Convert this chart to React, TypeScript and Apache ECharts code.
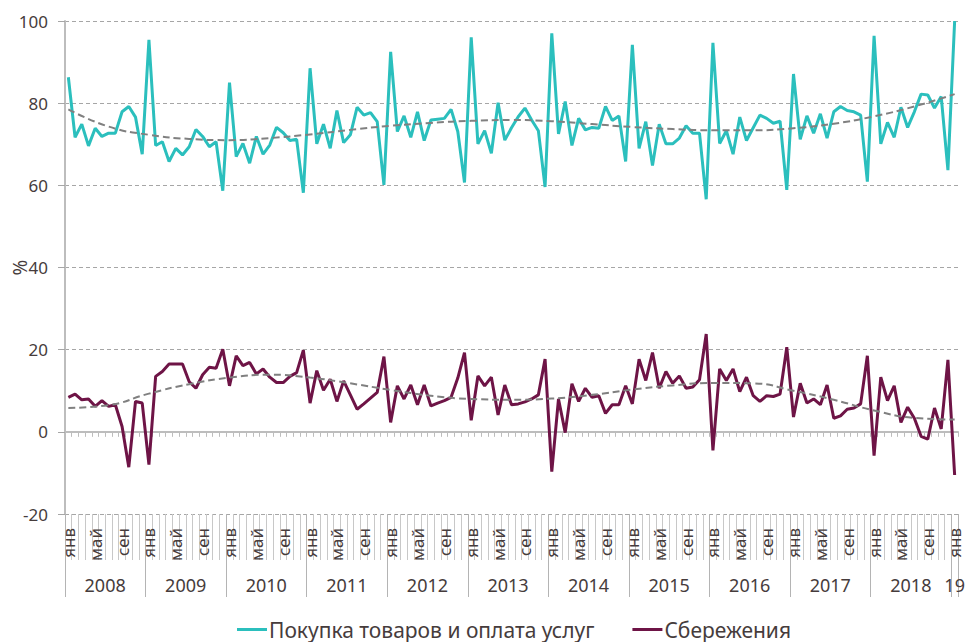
import React, { useEffect, useRef } from "react";
import * as echarts from "echarts";

// ---- data ----
const MONTHS = ["янв", "фев", "мар", "апр", "май", "июн", "июл", "авг", "сен", "окт", "ноя", "дек"];
const SHOWN_MONTHS = ["янв", "май", "сен"];
const YEAR_LABELS = ["2008", "2009", "2010", "2011", "2012", "2013", "2014", "2015", "2016", "2017", "2018", "19"];
const Y_TICKS = [-20, 0, 20, 40, 60, 80, 100];

const purchases = [
  86.3, 71.7, 74.9, 69.6, 73.9, 71.9, 72.7, 72.7, 77.9, 79.2, 76.6, 67.6,
  95.4, 69.7, 70.6, 65.8, 69.0, 67.4, 69.4, 73.6, 71.9, 69.4, 70.6, 58.7,
  85.0, 67.0, 70.2, 65.4, 71.9, 67.6, 69.8, 74.1, 72.8, 70.9, 71.2, 58.2,
  88.5, 70.1, 74.9, 69.0, 78.2, 70.4, 72.3, 79.0, 77.1, 77.7, 75.5, 60.1,
  92.5, 73.1, 76.9, 71.7, 77.9, 70.9, 75.9, 76.1, 76.3, 78.5, 73.1, 60.7,
  96.0, 70.1, 73.3, 67.8, 80.1, 71.0, 74.0, 76.7, 78.8, 75.9, 73.3, 59.6,
  97.0, 72.5, 80.4, 69.7, 76.3, 73.5, 74.1, 73.9, 79.2, 75.8, 76.9, 65.8,
  94.2, 69.0, 75.5, 64.8, 74.9, 70.1, 70.1, 71.5, 74.5, 72.7, 72.7, 56.6,
  94.7, 70.2, 73.3, 67.6, 76.6, 70.9, 74.0, 77.1, 76.3, 75.1, 75.6, 58.9,
  87.1, 71.2, 76.9, 72.7, 77.4, 71.5, 77.9, 79.2, 78.2, 77.9, 77.1, 60.9,
  96.4, 70.1, 75.3, 71.7, 79.0, 74.1, 77.9, 82.2, 82.0, 78.8, 81.6, 63.7,
  100.0,
];

const savings = [
  8.4, 9.2, 7.8, 8.0, 6.2, 7.6, 6.2, 6.6, 1.3, -8.6, 7.4, 7.0,
  -8.0, 13.5, 14.7, 16.5, 16.5, 16.5, 12.2, 10.6, 13.9, 15.7, 15.5, 20.1,
  11.2, 18.5, 16.1, 16.9, 14.1, 15.3, 13.3, 12.0, 12.0, 13.5, 14.4, 19.9,
  7.0, 14.9, 10.1, 12.8, 7.4, 12.4, 9.0, 5.5, 6.8, 8.2, 9.6, 18.3,
  2.3, 11.2, 8.0, 11.4, 6.6, 11.4, 6.3, 7.0, 7.6, 8.4, 13.1, 19.3,
  2.8, 13.6, 11.2, 13.3, 4.1, 11.4, 6.6, 6.8, 7.3, 8.0, 9.0, 17.7,
  -9.7, 8.0, -0.2, 11.7, 7.4, 10.6, 8.4, 8.8, 4.5, 6.6, 6.6, 11.2,
  6.8, 17.7, 12.5, 19.3, 10.6, 14.7, 11.8, 13.6, 10.6, 10.9, 12.7, 23.8,
  -4.5, 15.3, 12.5, 15.3, 9.8, 13.3, 8.8, 7.4, 8.8, 8.6, 9.2, 20.6,
  3.6, 11.8, 7.0, 8.0, 6.6, 11.4, 3.3, 3.9, 5.5, 5.8, 6.8, 18.5,
  -5.8, 13.3, 7.6, 11.2, 2.3, 6.0, 3.3, -1.1, -1.8, 5.8, 0.7, 17.5,
  -10.5,
];

// trend lines: [month index, value] read at half-year steps
const purchasesTrend: [number, number][] = [
  [0, 78.5], [6, 74.3], [12, 72.3], [18, 71.3], [24, 71.0], [30, 71.5], [36, 72.4],
  [42, 73.5], [48, 74.5], [54, 75.2], [60, 75.7], [66, 75.9], [72, 75.6], [78, 74.9],
  [84, 74.2], [90, 73.7], [96, 73.4], [102, 73.4], [108, 73.9], [114, 75.0],
  [120, 76.8], [126, 79.2], [132, 82.2],
];
const savingsTrend: [number, number][] = [
  [0, 5.8], [6, 6.5], [12, 9.3], [18, 11.6], [24, 13.2], [30, 13.9], [36, 13.2],
  [42, 11.8], [48, 10.2], [54, 8.8], [60, 8.0], [66, 7.8], [72, 8.1], [78, 9.0],
  [84, 10.3], [90, 11.3], [96, 11.9], [102, 11.8], [108, 10.0], [114, 7.8],
  [120, 5.2], [126, 3.4], [132, 3.0],
];

const SERIES_NAMES = ["Покупка товаров и оплата услуг", "Сбережения"];

const categories = purchases.map(
  (_, i) => `${MONTHS[i % 12]} ${YEAR_LABELS[Math.floor(i / 12)]}`
);

const FONT = "Noto Sans";
const TEXT = "#463c3c";
const CYAN = "#2bbfbd";
const MAROON = "#6e1446";
const TREND = "#808080";

export default function App() {
  const ref = useRef<HTMLDivElement>(null);
  useEffect(() => {
    if (!ref.current) return;
    const chart = echarts.init(ref.current, undefined, { renderer: "svg" });
    const last = categories.length - 1;
    chart.setOption({
      animation: false,
      backgroundColor: "#ffffff",
      textStyle: { fontFamily: FONT, color: TEXT },
      grid: {
        left: 65,
        right: 7,
        top: 21,
        bottom: 128,
        containLabel: false,
        outerBoundsMode: "none",
      },
      legend: {
        data: SERIES_NAMES,
        left: 237,
        top: 619,
        icon: "rect",
        itemWidth: 30,
        itemHeight: 3,
        itemGap: 38,
        padding: 0,
        textStyle: { fontFamily: FONT, fontSize: 21, color: TEXT, padding: [0, 0, 0, -3] },
      },
      xAxis: [
        {
          type: "category",
          data: categories,
          position: "bottom",
          boundaryGap: true,
          axisLine: { onZero: true, lineStyle: { color: "#bdbdbd", width: 2 } },
          axisTick: { show: true, interval: 0, length: 5, lineStyle: { color: "#bdbdbd", width: 1 } },
          axisLabel: { show: false },
          splitLine: { show: false },
        },
        {
          type: "category",
          data: categories,
          position: "bottom",
          boundaryGap: true,
          axisLine: { show: false, onZero: false },
          axisTick: { show: true, interval: 0, length: 46, lineStyle: { color: "#c8c8c8", width: 1 } },
          axisLabel: {
            interval: 0,
            rotate: 90,
            margin: 14,
            fontFamily: FONT,
            fontSize: 17,
            color: TEXT,
            formatter: (v: string) => {
              const m = v.split(" ")[0];
              return SHOWN_MONTHS.includes(m) ? m : "";
            },
          },
          splitLine: { show: false },
        },
        {
          type: "category",
          data: categories,
          position: "bottom",
          boundaryGap: true,
          axisLine: { show: false, onZero: false },
          axisTick: {
            show: true,
            interval: (i: number) => i % 12 === 0,
            length: 83,
            lineStyle: { color: "#b4b4b4", width: 1 },
          },
          axisLabel: {
            interval: (i: number) => i % 12 === 6 || i === last,
            margin: 62,
            fontFamily: FONT,
            fontSize: 18,
            color: TEXT,
            formatter: (v: string, i: number) => {
              const y = v.split(" ")[1];
              return i === last ? `{b|${y}}` : `{a|${y}}`;
            },
            rich: {
              a: { fontFamily: FONT, fontSize: 18, color: TEXT, padding: [0, 7, 0, 0] },
              b: { fontFamily: FONT, fontSize: 18, color: TEXT },
            },
          },
          splitLine: { show: false },
        },
      ],
      yAxis: {
        type: "value",
        min: Y_TICKS[0],
        max: Y_TICKS[Y_TICKS.length - 1],
        interval: 20,
        name: "%",
        nameLocation: "middle",
        nameRotate: 90,
        nameGap: 36,
        nameMoveOverlap: false,
        nameTextStyle: { fontFamily: FONT, fontSize: 19, color: TEXT },
        axisLine: { show: true, lineStyle: { color: "#bdbdbd", width: 2 } },
        axisTick: { show: true, length: 7, lineStyle: { color: "#a6a6a6" } },
        axisLabel: { margin: 17, fontFamily: FONT, fontSize: 17, color: TEXT },
        splitLine: { show: true, lineStyle: { color: "#a6a6a6", type: [4, 3], width: 1.2 } },
      },
      series: [
        {
          name: SERIES_NAMES[0],
          type: "line",
          xAxisIndex: 0,
          data: purchases,
          symbol: "none",
          lineStyle: { color: CYAN, width: 3 },
          itemStyle: { color: CYAN },
          z: 3,
        },
        {
          name: SERIES_NAMES[1],
          type: "line",
          xAxisIndex: 0,
          data: savings,
          symbol: "none",
          lineStyle: { color: MAROON, width: 3 },
          itemStyle: { color: MAROON },
          z: 3,
        },
        {
          name: "trend1",
          type: "line",
          xAxisIndex: 0,
          data: purchasesTrend,
          symbol: "none",
          smooth: true,
          lineStyle: { color: TREND, width: 2, type: [7, 4] },
          z: 4,
          silent: true,
        },
        {
          name: "trend2",
          type: "line",
          xAxisIndex: 0,
          data: savingsTrend,
          symbol: "none",
          smooth: true,
          lineStyle: { color: TREND, width: 2, type: [7, 4] },
          z: 4,
          silent: true,
        },
      ],
    });
    return () => chart.dispose();
  }, []);
  return (
    <div
      ref={ref}
      style={{ position: "absolute", left: 0, top: 0, width: 965, height: 642 }}
    />
  );
}
